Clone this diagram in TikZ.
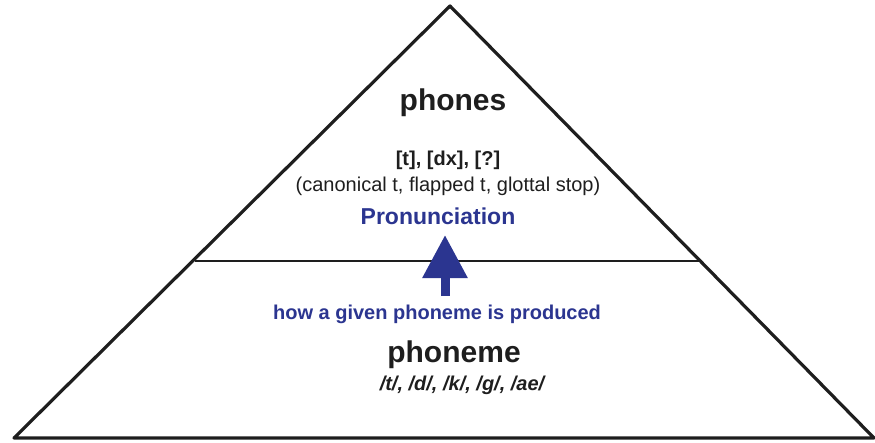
\documentclass[tikz,border=0pt]{standalone}
\usepackage{fontspec}
\setmainfont{Liberation Sans}
\definecolor{PronBlue}{HTML}{2B3590}
\definecolor{InkGray}{HTML}{1E1E1E}
\usetikzlibrary{positioning,arrows.meta}

\begin{document}
\begin{tikzpicture}[x=1pt, y=-1pt,
    edge/.style={draw=InkGray, line width=3.2pt, line join=round},
    level/.style={font=\fontsize{30}{33}\selectfont\bfseries, text=InkGray, anchor=base, inner sep=0pt},
    detail/.style={font=\fontsize{20}{23}\selectfont, text=InkGray, anchor=base, inner sep=0pt},
    bluetxt/.style={font=\fontsize{20}{23}\selectfont\bfseries, text=PronBlue, anchor=base, inner sep=0pt}]
    \useasboundingbox (0,0) rectangle (875,442);
    \coordinate (apex) at (450,6);
    \coordinate (left) at (14,438);
    \coordinate (right) at (874,438);
    \coordinate (midL) at (195,261);
    \coordinate (midR) at (702,261);
    \draw[edge] (left) -- (apex) -- (right) -- cycle;
    \draw[edge, line width=2.8pt] (midL) -- (midR);

    \node[level] (phones) at (453,110) {phones};
    \node[detail, font=\fontsize{20}{23}\selectfont\bfseries] (phoneset) at (448,165) {[t], [dx], [?]};
    \node[detail] (phonegloss) at (448,191) {(canonical t, flapped t, glottal stop)};
    \node[bluetxt, font=\fontsize{23}{26}\selectfont\bfseries] (pron) at (438,224) {Pronunciation};

    \coordinate (arrbot) at (445,296);
    \coordinate (arrtop) at (445,235);
    \draw[draw=PronBlue, line width=9pt, -{Triangle[width=43pt, length=43pt]}] (arrbot) -- (arrtop);

    \node[bluetxt] (how) at (437,319) {how a given phoneme is produced};
    \node[level] (phoneme) at (454,362) {phoneme};
    \node[detail, font=\fontsize{20}{23}\selectfont\bfseries\itshape] (phonemeset) at (462,390) {/t/, /d/, /k/, /g/, /ae/};
\end{tikzpicture}
\end{document}
